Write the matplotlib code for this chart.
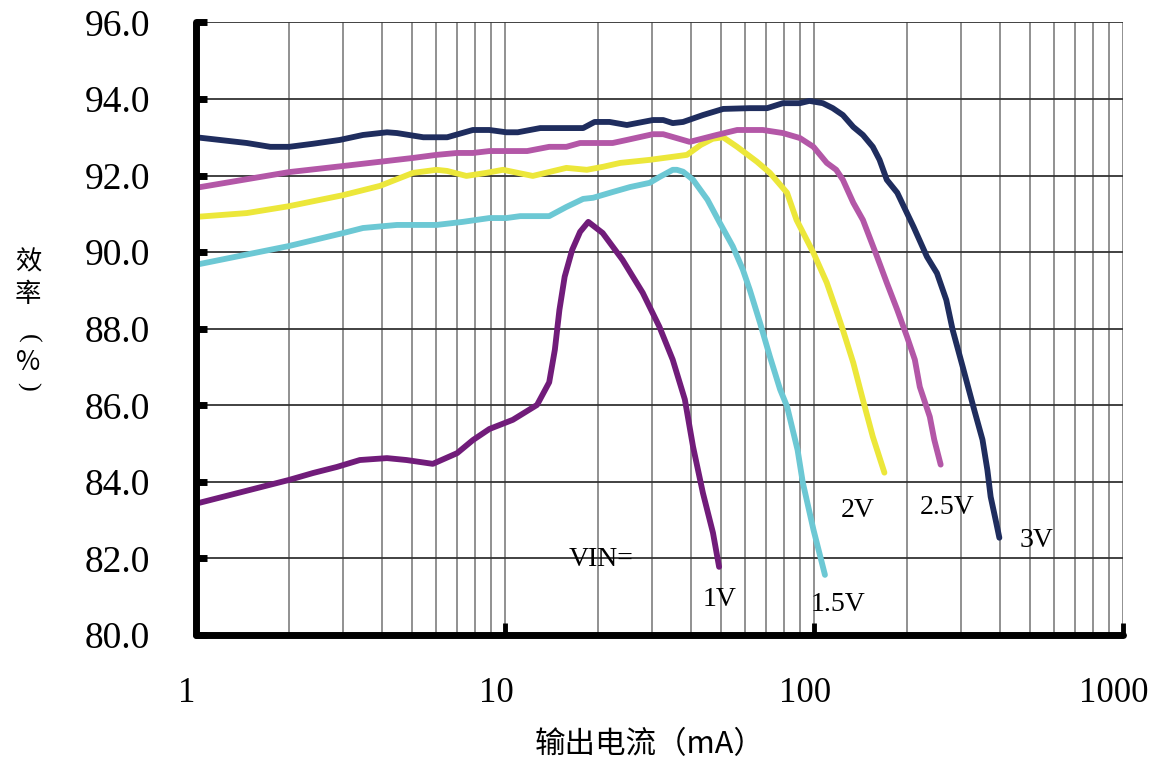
import numpy as np
import matplotlib
matplotlib.use("Agg")
import matplotlib.pyplot as plt
from matplotlib.ticker import FixedLocator, NullFormatter
import matplotlib.transforms as mtransforms

# --- data (x: output current mA, y: efficiency %) ---
i_1v = [1.0, 2.0, 2.39, 2.86, 3.39, 4.15, 4.8, 5.84, 7.0, 7.87, 8.9, 10.6, 12.7, 13.9,
        14.5, 15.0, 15.6, 16.5, 17.5, 18.6, 20.7, 24.0, 27.9, 31.6, 34.9, 38.2, 40.6,
        43.7, 47.1, 49.3]
eff_1v = [83.43, 84.05, 84.23, 84.39, 84.57, 84.62, 84.57, 84.47, 84.75, 85.09, 85.38,
          85.62, 86.01, 86.6, 87.45, 88.49, 89.36, 90.06, 90.53, 90.79, 90.5, 89.8,
          88.94, 88.05, 87.19, 86.15, 84.92, 83.71, 82.67, 81.78]

i_15v = [1.0, 2.0, 3.0, 3.47, 4.47, 6.0, 7.3, 8.9, 10.1, 11.2, 13.9, 15.8, 17.9, 19.3,
         22.3, 25.4, 29.4, 31.6, 34.9, 36.0, 37.7, 40.6, 45.2, 49.6, 54.6, 58.8, 62.0,
         66.9, 72.0, 77.7, 81.8, 88.5, 92.0, 99.6, 108.5]
eff_15v = [89.67, 90.16, 90.5, 90.63, 90.71, 90.71, 90.79, 90.89, 90.89, 90.94, 90.94,
           91.18, 91.39, 91.42, 91.57, 91.7, 91.81, 91.96, 92.15, 92.15, 92.1, 91.89,
           91.37, 90.76, 90.15, 89.55, 89.01, 88.15, 87.27, 86.41, 85.97, 84.83, 83.98,
           82.75, 81.57]

i_2v = [1.0, 1.46, 2.0, 3.0, 3.94, 5.04, 6.0, 6.5, 7.5, 8.7, 9.85, 12.3, 15.8, 18.4,
        20.8, 23.6, 29.4, 34.9, 38.8, 43.0, 47.0, 50.8, 56.4, 65.4, 72.0, 81.8, 87.8,
        99.6, 110.0, 118.0, 124.0, 134.0, 144.0, 155.0, 169.0]
eff_2v = [90.92, 91.02, 91.2, 91.49, 91.73, 92.07, 92.15, 92.12, 91.99, 92.07, 92.15,
          91.99, 92.2, 92.15, 92.23, 92.33, 92.41, 92.49, 92.54, 92.8, 92.96, 93.0,
          92.75, 92.36, 92.07, 91.55, 90.84, 89.98, 89.2, 88.49, 87.97, 87.11, 86.14,
          85.18, 84.24]

i_25v = [1.0, 2.0, 3.0, 3.94, 5.04, 6.0, 7.0, 7.87, 8.9, 11.8, 13.9, 15.8, 17.5, 22.3,
         24.8, 30.1, 32.5, 39.6, 48.4, 56.4, 68.3, 79.3, 90.0, 99.6, 110.0, 118.0, 124.0,
         134.0, 144.0, 160.0, 172.0, 186.0, 200.0, 212.0, 220.0, 237.0, 245.0, 257.0]
eff_25v = [91.68, 92.09, 92.25, 92.36, 92.46, 92.54, 92.59, 92.59, 92.64, 92.64, 92.75,
           92.75, 92.85, 92.85, 92.93, 93.08, 93.08, 92.88, 93.06, 93.19, 93.19, 93.11,
           92.98, 92.75, 92.33, 92.15, 91.89, 91.29, 90.84, 89.88, 89.2, 88.49, 87.79,
           87.19, 86.48, 85.7, 85.1, 84.45]

i_3v = [1.0, 1.46, 1.74, 2.0, 2.39, 2.92, 3.47, 4.15, 4.47, 5.44, 6.5, 7.87, 8.9, 10.1,
        11.0, 13.0, 17.9, 19.5, 21.8, 24.8, 30.1, 32.5, 34.9, 37.7, 43.7, 50.8, 62.0,
        70.5, 79.3, 90.0, 96.6, 106.8, 115.0, 124.0, 134.0, 144.0, 155.0, 163.0, 172.0,
        186.0, 194.0, 210.0, 232.0, 250.0, 268.0, 281.0, 303.0, 330.0, 351.0, 364.0,
        373.0, 387.0, 398.0]
eff_3v = [93.0, 92.85, 92.75, 92.75, 92.83, 92.93, 93.06, 93.13, 93.11, 93.0, 93.0,
          93.19, 93.19, 93.13, 93.13, 93.24, 93.24, 93.4, 93.4, 93.32, 93.45, 93.45,
          93.37, 93.4, 93.58, 93.74, 93.76, 93.76, 93.89, 93.89, 93.95, 93.89, 93.76,
          93.58, 93.27, 93.06, 92.75, 92.41, 91.89, 91.55, 91.24, 90.66, 89.88, 89.45,
          88.75, 87.97, 87.0, 85.88, 85.1, 84.31, 83.61, 83.01, 82.54]

series = [
    (i_1v, eff_1v, "#711c7a"),
    (i_15v, eff_15v, "#6cc8d4"),
    (i_2v, eff_2v, "#ece73a"),
    (i_25v, eff_25v, "#b357a7"),
    (i_3v, eff_3v, "#1f2d5e"),
]

# curve labels (text, x, y)
labels = [("VIN=", 20.5, 81.96), ("1V", 49.6, 80.92), ("1.5V", 119.6, 80.79),
          ("2V", 138.8, 83.24), ("2.5V", 269.0, 83.32), ("3V", 523.0, 82.48)]

yticks = np.arange(80, 97, 2)
xticks = [1, 10, 100, 1000]

serif = "Liberation Serif"
cjk = ["Noto Sans CJK SC", "DejaVu Sans"]

fig = plt.figure(figsize=(11.53, 7.62), dpi=100)
ax = fig.add_axes([196 / 1153, 1 - 635 / 762, (1123 - 196) / 1153, (635 - 22.4) / 762])

for x, y, c in series:
    ax.plot(x, y, color=c, lw=4.2, solid_capstyle="round", solid_joinstyle="round", zorder=3)

ax.set_xscale("log")
ax.set_xlim(1, 1000)
ax.set_ylim(80, 96)

ax.set_yticks(yticks)
ax.set_yticklabels([f"{v:.1f}" for v in yticks], fontfamily=serif, fontsize=27)
ax.xaxis.set_major_locator(FixedLocator(xticks))
ax.set_xticklabels([str(v) for v in xticks], fontfamily=serif, fontsize=25)
ax.xaxis.set_minor_locator(FixedLocator([m * 10 ** d for d in range(3) for m in range(2, 10)]))
ax.xaxis.set_minor_formatter(NullFormatter())

ax.grid(True, axis="y", color="#333333", lw=1.3, zorder=1)
ax.grid(True, axis="x", which="both", color="#888888", lw=1.3, zorder=1)

ax.tick_params(axis="y", direction="in", length=8, width=5, pad=33, color="black")
ax.tick_params(axis="x", which="major", direction="in", length=9, width=3.5, pad=30)
ax.tick_params(axis="x", which="minor", length=0)

# shift x tick labels slightly left like the reference
offset = mtransforms.ScaledTranslation(-9 / 100, 0, fig.dpi_scale_trans)
for lab in ax.get_xticklabels():
    lab.set_transform(lab.get_transform() + offset)

for side in ["top", "right"]:
    ax.spines[side].set_visible(False)
for side in ["left", "bottom"]:
    ax.spines[side].set_linewidth(5)
    ax.spines[side].set_capstyle("round")
    ax.spines[side].set_zorder(4)

for txt, x, y in labels:
    ax.text(x, y, txt, fontfamily=serif, fontsize=20, ha="center", va="center", zorder=5)

# axis titles
fig.text(650 / 1153, 1 - 745 / 762, "输出电流（mA）", family=cjk, fontsize=22,
         ha="center", va="center")
# vertical y title: stacked characters, brackets turned sideways
for ch, py, rot, fam in [("效", 262, 0, cjk), ("率", 294, 0, cjk), ("(", 338, -90, [serif]),
                         ("%", 362, 0, cjk), (")", 386, -90, [serif])]:
    fig.text(28 / 1153, 1 - py / 762, ch, family=fam, fontsize=19, rotation=rot,
             rotation_mode="anchor", ha="center", va="center")

fig.savefig("out.png", dpi=100)
